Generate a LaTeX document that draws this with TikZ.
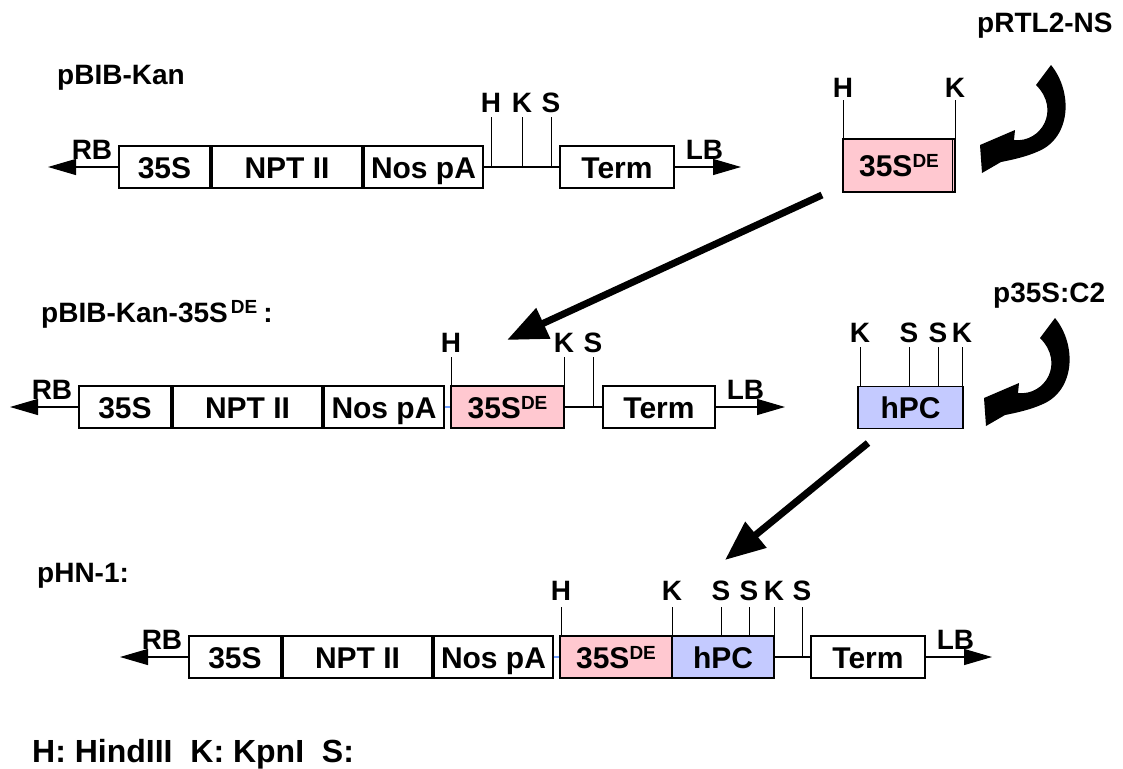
\documentclass[tikz,border=0pt]{standalone}
\usepackage{fontspec}
\setmainfont{Liberation Sans}
\usetikzlibrary{arrows.meta}
\definecolor{pinkbox}{HTML}{FFC8D0}
\definecolor{bluebox}{HTML}{C4CAFF}
\definecolor{joint}{HTML}{6F9FFF}
\newcommand{\dnafont}{\bfseries\fontsize{28}{30}\selectfont}
\newcommand{\partfont}{\bfseries\fontsize{30}{32}\selectfont}
\newcommand{\supDE}{\raisebox{9pt}{\fontsize{19}{20}\selectfont DE}}

\begin{document}
\begin{tikzpicture}[x=1pt,y=-1pt,
  box/.style={draw, line width=1.2pt, inner sep=0pt, minimum height=42pt,
    text height=22pt, text depth=0pt, font=\partfont},
  lbl/.style={inner sep=0pt, font=\dnafont},
  site/.style={lbl, anchor=base},
  cut/.style={line width=0.9pt},
  border arrow/.style={line width=1.2pt, -{Triangle[length=28pt,width=16pt]}},
  big arrow/.style={line width=7pt, -{Triangle[length=40pt,width=32pt]}},
  curl/.pic={\fill (0,0) .. controls (22,27) and (20,72) .. (-12,86)
      .. controls (-25,92) and (-40,95) .. (-50,97) -- (-69,108) -- (-71,80) -- (-36,65)
      -- (-37,75) .. controls (-10,78) and (10,45) .. (-15,20) -- cycle;}]
  \useasboundingbox (0,0) rectangle (1123,768);

  % pBIB-Kan
  \node[lbl, anchor=base west] (t1) at (57,84) {pBIB-Kan};
  \node[box, minimum width=91pt] (s35a) at (164.5,167) {35S};
  \node[box, minimum width=150pt] (npta) at (287,167) {NPT II};
  \node[box, minimum width=119pt] (nosa) at (423.5,167) {Nos pA};
  \node[box, minimum width=114pt] (terma) at (617,167) {Term};
  \coordinate (rbtip1) at (48,167);
  \coordinate (lbtip1) at (741,167);
  \draw[border arrow] (s35a.west) -- (rbtip1);
  \draw[border arrow] (terma.east) -- (lbtip1);
  \draw[line width=1.2pt] (nosa.east) -- (terma.west);
  \node[lbl, anchor=base east] (rb1) at ([shift={(-6pt,8pt)}]s35a.west) {RB};
  \node[lbl, anchor=base west] (lb1) at ([shift={(11pt,8pt)}]terma.east) {LB};
  \node[site] (h1) at (491,112) {H};
  \node[site] (k1) at (522,112) {K};
  \node[site] (s1) at (551,112) {S};
  \draw[cut] (h1.base) ++(0,5) -- (h1 |- nosa.east);
  \draw[cut] (k1.base) ++(0,5) -- (k1 |- nosa.east);
  \draw[cut] (s1.base) ++(0,5) -- (s1 |- nosa.east);

  % pRTL2-NS
  \node[lbl, anchor=base west] (t2) at (977,33) {pRTL2-NS};
  \node[box, fill=pinkbox, minimum width=112pt, minimum height=53pt] (dep) at (899,165.5) {35S\supDE};
  \draw[line width=1.2pt] ([xshift=-3pt]dep.north east) -- ([xshift=-3pt]dep.south east);
  \node[site] (h0) at (843,97) {H};
  \node[site] (k0) at (955,97) {K};
  \draw[cut] (h0.base) ++(0,3) -- (h0 |- dep.north);
  \draw[cut] (k0.base) ++(0,3) -- (k0 |- dep.north);
  \pic at (1051,65) {curl};

  \coordinate (from1) at (822,195);
  \coordinate (to1) at (507,340);
  \draw[big arrow] (from1) -- (to1);

  % pBIB-Kan-35S DE
  \node[lbl, anchor=base west] (t3) at (41,322) {pBIB-Kan-35S\hspace{3pt}\supDE\hspace{6pt}:};
  \node[box, minimum width=92pt] (s35b) at (125,407) {35S};
  \node[box, minimum width=149pt] (nptb) at (247.5,407) {NPT II};
  \node[box, minimum width=120pt] (nosb) at (384,407) {Nos pA};
  \node[box, fill=pinkbox, minimum width=113pt] (deb) at (507.5,407) {35S\supDE};
  \node[box, minimum width=112pt] (termb) at (659,407) {Term};
  \coordinate (rbtip2) at (10,407);
  \coordinate (lbtip2) at (785,407);
  \draw[border arrow] (s35b.west) -- (rbtip2);
  \draw[border arrow] (termb.east) -- (lbtip2);
  \draw[line width=1.2pt, joint] (nosb.east) -- (deb.west);
  \draw[line width=1.2pt] (deb.east) -- (termb.west);
  \node[lbl, anchor=base east] (rb2) at ([shift={(-6pt,8pt)}]s35b.west) {RB};
  \node[lbl, anchor=base west] (lb2) at ([shift={(11pt,8pt)}]termb.east) {LB};
  \node[site] (h2) at (451,352) {H};
  \node[site] (k2) at (564,352) {K};
  \node[site] (s2) at (593,352) {S};
  \draw[cut] (h2.base) ++(0,5) -- (h2 |- deb.north);
  \draw[cut] (k2.base) ++(0,5) -- (k2 |- deb.north);
  \draw[cut] (s2.base) ++(0,5) -- (s2 |- termb.west);

  % p35S:C2
  \node[lbl, anchor=base west] (t4) at (993,302) {p35S:C2};
  \node[box, fill=bluebox, minimum width=105pt] (hpc) at (910.5,407.5) {hPC};
  \node[site] (k3) at (860,342) {K};
  \node[site] (s3) at (909,342) {S};
  \node[site] (s4) at (938,342) {S};
  \node[site] (k4) at (962,342) {K};
  \draw[cut] (k3.base) ++(0,5) -- (k3 |- hpc.north);
  \draw[cut] (s3.base) ++(0,5) -- (s3 |- hpc.north);
  \draw[cut] (s4.base) ++(0,5) -- (s4 |- hpc.north);
  \draw[cut] (k4.base) ++(0,5) -- (k4 |- hpc.north);
  \pic at (1055,318) {curl};

  \coordinate (from2) at (868,443);
  \coordinate (to2) at (725,560);
  \draw[big arrow] (from2) -- (to2);

  % pHN-1
  \node[lbl, anchor=base west] (t5) at (37,582) {pHN-1:};
  \node[box, minimum width=92pt] (s35c) at (235,657) {35S};
  \node[box, minimum width=149pt] (nptc) at (357.5,657) {NPT II};
  \node[box, minimum width=119pt] (nosc) at (493.5,657) {Nos pA};
  \node[box, fill=pinkbox, minimum width=112pt] (dec) at (616,657) {35S\supDE};
  \node[box, fill=bluebox, minimum width=102pt] (hpcc) at (723,657) {hPC};
  \node[box, minimum width=114pt] (termc) at (868,657) {Term};
  \coordinate (rbtip3) at (120,657);
  \coordinate (lbtip3) at (992,657);
  \draw[border arrow] (s35c.west) -- (rbtip3);
  \draw[border arrow] (termc.east) -- (lbtip3);
  \draw[line width=1.2pt, joint] (nosc.east) -- (dec.west);
  \draw[line width=1.2pt] (hpcc.east) -- (termc.west);
  \node[lbl, anchor=base east] (rb3) at ([shift={(-6pt,8pt)}]s35c.west) {RB};
  \node[lbl, anchor=base west] (lb3) at ([shift={(11pt,8pt)}]termc.east) {LB};
  \node[site] (h5) at (561,600) {H};
  \node[site] (k5) at (672,600) {K};
  \node[site] (s5) at (721,600) {S};
  \node[site] (s6) at (749,600) {S};
  \node[site] (k6) at (774,600) {K};
  \node[site] (s7) at (802,600) {S};
  \draw[cut] (h5.base) ++(0,7) -- (h5 |- dec.north);
  \draw[cut] (k5.base) ++(0,7) -- (k5 |- dec.north);
  \draw[cut] (s5.base) ++(0,7) -- (s5 |- hpcc.north);
  \draw[cut] (s6.base) ++(0,7) -- (s6 |- hpcc.north);
  \draw[cut] (k6.base) ++(0,7) -- (k6 |- hpcc.north);
  \draw[cut] (s7.base) ++(0,7) -- (s7 |- termc.west);

  \node[anchor=base west, inner sep=0pt, font=\bfseries\fontsize{32}{36}\selectfont] (key) at (32,762) {H: HindIII\ \ K: KpnI\ \ S:};
\end{tikzpicture}
\end{document}
